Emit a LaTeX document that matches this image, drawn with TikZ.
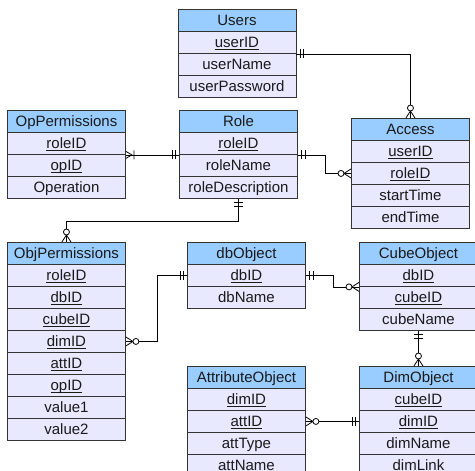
\documentclass[tikz,border=0pt]{standalone}
\usepackage{fontspec}
\setmainfont{Liberation Sans}
\usetikzlibrary{calc}
\definecolor{hdrblue}{RGB}{153,204,255}
\definecolor{rowlav}{RGB}{232,232,255}
\definecolor{boxline}{RGB}{51,51,51}
\definecolor{txt}{RGB}{26,26,26}
\newcommand{\ukey}[1]{\setbox0\hbox{#1}\rlap{\color{txt}\rule[-2pt]{\wd0}{0.8pt}}\box0}
\newcommand{\ertable}[4]{%
  \node[hdrcell, anchor=north west] (#1) at (#2) {#3};
  \foreach \cellt [count=\idx] in {#4} {\node[rowcell, anchor=north west] (#1-\idx) at ($(#2)+(0,22*\idx)$) {\cellt};}
}
\tikzset{
  cellbase/.style={draw=boxline, line width=0.9pt, minimum width=118pt, minimum height=22pt,
    inner sep=0pt, text height=11pt, text depth=0pt, font=\fontsize{15}{18}\selectfont, text=txt},
  hdrcell/.style={cellbase, fill=hdrblue},
  rowcell/.style={cellbase, fill=rowlav},
  conn/.style={draw=black, line width=0.8pt},
  mk/.style={draw=black, line width=0.8pt},
  one/.pic={\draw[mk] (3.5,-4.5)--(3.5,4.5) (7,-4.5)--(7,4.5);},
  zmany/.pic={\draw[mk] (0,-4.5)--(7,0)--(0,4.5); \draw[mk, fill=white] (10,0) circle[radius=3pt];},
  omany/.pic={\draw[mk] (0,-3.5)--(6,0)--(0,3.5) (8,-4.5)--(8,4.5);},
}
\begin{document}
\begin{tikzpicture}[x=1pt, y=-1pt]
\useasboundingbox (0,0) rectangle (475,471);
\clip (0,0) rectangle (475,471);
\fill[white] (0,0) rectangle (475,471);

\ertable{Users}{177.5,9}{Users}{\ukey{userID},userName,userPassword}
\ertable{OpPermissions}{7,110}{OpPermissions}{\ukey{roleID},\ukey{opID},Operation}
\ertable{Role}{179,110}{Role}{\ukey{roleID},roleName,roleDescription}
\ertable{Access}{351,118}{Access}{\ukey{userID},\ukey{roleID},startTime,endTime}
\ertable{ObjPermissions}{7,242}{ObjPermissions}{\ukey{roleID},\ukey{dbID},\ukey{cubeID},\ukey{dimID},\ukey{attID},\ukey{opID},value1,value2}
\ertable{dbObject}{187,242}{dbObject}{\ukey{dbID},dbName}
\ertable{CubeObject}{359,242}{CubeObject}{\ukey{dbID},\ukey{cubeID},cubeName}
\ertable{AttributeObject}{187,366}{AttributeObject}{\ukey{dimID},\ukey{attID},attType,attName}
\ertable{DimObject}{359,366}{DimObject}{\ukey{cubeID},\ukey{dimID},dimName,dimLink}

% Users -- Access
\draw[conn] (Users-1.south east) -- (Users-1.south east -| Access.north) -- (Access.north);
\pic at (Users-1.south east) {one};
\pic[rotate=90] at (Access.north) {zmany};
% Role -- OpPermissions
\draw[conn] (Role-1.south west) -- (OpPermissions-1.south east);
\pic[rotate=180] at (Role-1.south west) {one};
\pic at (OpPermissions-1.south east) {omany};
% Role -- Access
\draw[conn] (Role-1.south east) -- ++(27,0) |- (Access-2.west);
\pic at (Role-1.south east) {one};
\pic[rotate=180] at (Access-2.west) {zmany};
% Role -- ObjPermissions
\draw[conn] (Role-3.south) -- ++(0,22) -| (ObjPermissions.north);
\pic[rotate=270] at (Role-3.south) {one};
\pic[rotate=90] at (ObjPermissions.north) {zmany};
% ObjPermissions -- dbObject
\draw[conn] (ObjPermissions-4.east) -- ++(31,0) |- (dbObject-1.west);
\pic at (ObjPermissions-4.east) {zmany};
\pic[rotate=180] at (dbObject-1.west) {one};
% dbObject -- CubeObject
\draw[conn] (dbObject-1.east) -- ++(27,0) |- (CubeObject-1.south west);
\pic at (dbObject-1.east) {one};
\pic[rotate=180] at (CubeObject-1.south west) {zmany};
% CubeObject -- DimObject
\draw[conn] (CubeObject-3.south) -- (DimObject.north);
\pic[rotate=270] at (CubeObject-3.south) {one};
\pic[rotate=90] at (DimObject.north) {zmany};
% DimObject -- AttributeObject
\draw[conn] (DimObject-2.west) -- (AttributeObject-2.east);
\pic[rotate=180] at (DimObject-2.west) {one};
\pic at (AttributeObject-2.east) {zmany};
\end{tikzpicture}
\end{document}
